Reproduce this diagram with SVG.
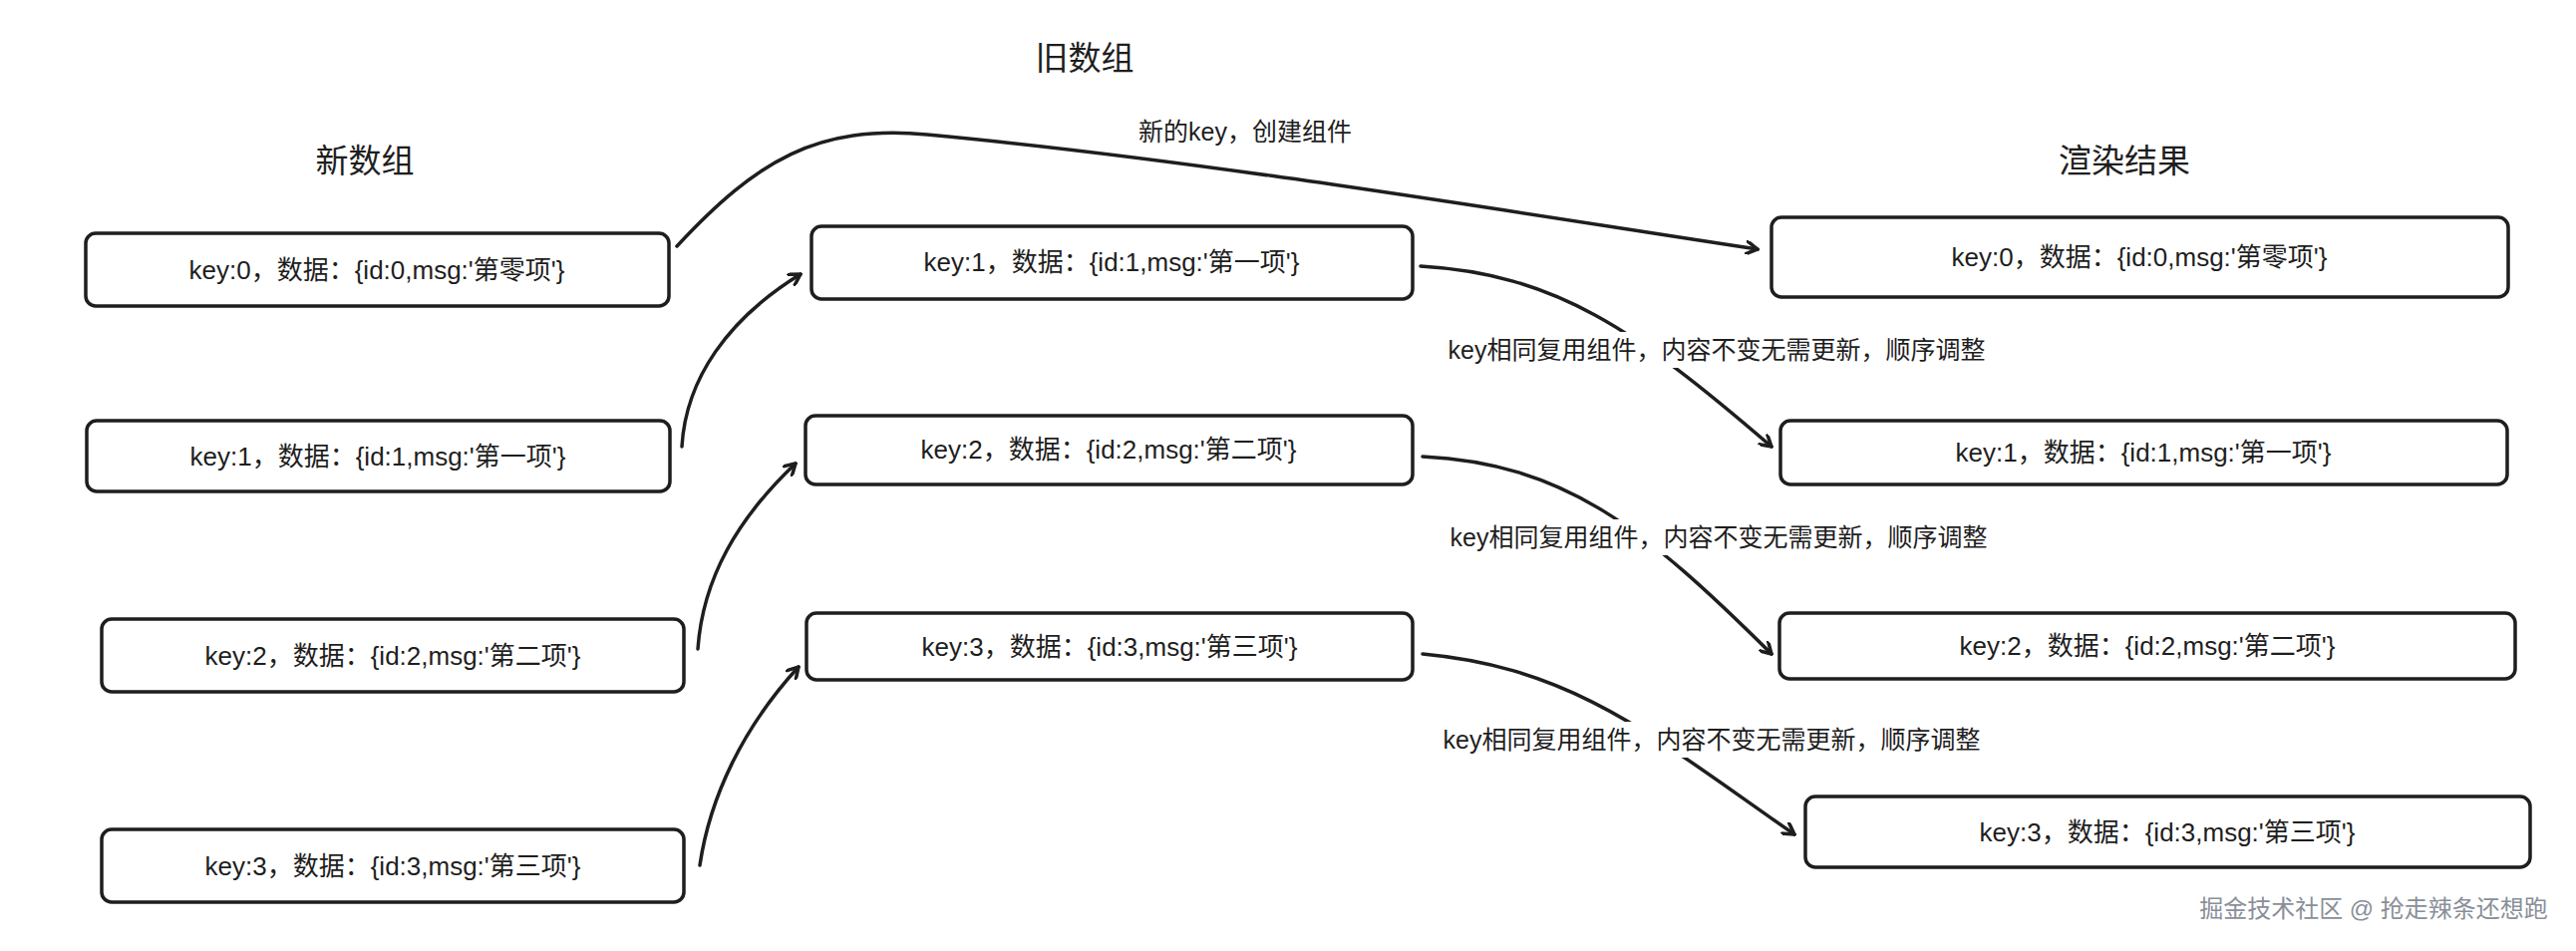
<svg xmlns="http://www.w3.org/2000/svg" width="2584" height="954" viewBox="0 0 2584 954">
<style>
.box{fill:#fff;stroke:#1e1e1e;stroke-width:3.5}
.t{font-family:"Liberation Sans","Noto Sans CJK SC",sans-serif;font-size:26px;fill:#1e1e1e;text-anchor:middle;dominant-baseline:central}
.h{font-size:33px}
.l{font-size:25px}
.c{fill:none;stroke:#1e1e1e;stroke-width:3.5;stroke-linecap:round}
</style>
<defs><marker id="a" markerWidth="14" markerHeight="14" refX="12" refY="7" orient="auto" markerUnits="userSpaceOnUse"><path d="M0,0 L12,7 L0,14" fill="none" stroke="#1e1e1e" stroke-width="3.5" stroke-linecap="round"/></marker></defs>
<rect width="2584" height="954" fill="#fff"/>
<text class="t h" x="366" y="161">新数组</text>
<text class="t h" x="1088" y="58">旧数组</text>
<text class="t h" x="2131" y="161">渲染结果</text>
<g id="n0"><rect class="box" x="86" y="234" width="585" height="73" rx="10"/><text class="t" x="378" y="271">key:0，数据：{id:0,msg:'第零项'}</text></g>
<g id="n1"><rect class="box" x="87" y="422" width="585" height="71" rx="10"/><text class="t" x="379" y="458">key:1，数据：{id:1,msg:'第一项'}</text></g>
<g id="n2"><rect class="box" x="102" y="621" width="584" height="73" rx="10"/><text class="t" x="394" y="658">key:2，数据：{id:2,msg:'第二项'}</text></g>
<g id="n3"><rect class="box" x="102" y="832" width="584" height="73" rx="10"/><text class="t" x="394" y="869">key:3，数据：{id:3,msg:'第三项'}</text></g>
<g id="o1"><rect class="box" x="814" y="227" width="603" height="73" rx="10"/><text class="t" x="1115" y="263">key:1，数据：{id:1,msg:'第一项'}</text></g>
<g id="o2"><rect class="box" x="808" y="417" width="609" height="69" rx="10"/><text class="t" x="1112" y="451">key:2，数据：{id:2,msg:'第二项'}</text></g>
<g id="o3"><rect class="box" x="809" y="615" width="608" height="67" rx="10"/><text class="t" x="1113" y="649">key:3，数据：{id:3,msg:'第三项'}</text></g>
<g id="r0"><rect class="box" x="1777" y="218" width="739" height="80" rx="10"/><text class="t" x="2146" y="258">key:0，数据：{id:0,msg:'第零项'}</text></g>
<g id="r1"><rect class="box" x="1786" y="422" width="729" height="64" rx="10"/><text class="t" x="2150" y="454">key:1，数据：{id:1,msg:'第一项'}</text></g>
<g id="r2"><rect class="box" x="1785" y="615" width="738" height="66" rx="10"/><text class="t" x="2154" y="648">key:2，数据：{id:2,msg:'第二项'}</text></g>
<g id="r3"><rect class="box" x="1811" y="799" width="727" height="71" rx="10"/><text class="t" x="2174" y="835">key:3，数据：{id:3,msg:'第三项'}</text></g>
<g id="connectors">
<path class="c" marker-end="url(#a)" d="M679,247 C760,160 820,125 930,135 C1200,160 1500,210 1763,250"/>
<path class="c" marker-end="url(#a)" d="M684,448 C688,380 730,320 803,275"/>
<path class="c" marker-end="url(#a)" d="M700,651 C705,580 740,520 798,465"/>
<path class="c" marker-end="url(#a)" d="M702,868 C712,800 745,730 801,669"/>
<path class="c" marker-end="url(#a)" d="M1425,267 C1560,275 1640,330 1777,448"/>
<path class="c" marker-end="url(#a)" d="M1427,458 C1570,465 1650,530 1777,656"/>
<path class="c" marker-end="url(#a)" d="M1427,656 C1580,670 1660,740 1800,837"/>
<rect x="1420" y="333" width="605" height="36" fill="#fff"/>
<rect x="1420" y="521" width="605" height="36" fill="#fff"/>
<rect x="1415" y="724" width="605" height="36" fill="#fff"/>
<text class="t l" x="1249" y="132">新的key，创建组件</text>
<text class="t l" x="1722" y="351">key相同复用组件，内容不变无需更新，顺序调整</text>
<text class="t l" x="1724" y="539">key相同复用组件，内容不变无需更新，顺序调整</text>
<text class="t l" x="1717" y="742">key相同复用组件，内容不变无需更新，顺序调整</text>
</g>
<text class="t" x="2381" y="911" style="font-size:24px;fill:#8a8f99">掘金技术社区 @ 抢走辣条还想跑</text>
</svg>
